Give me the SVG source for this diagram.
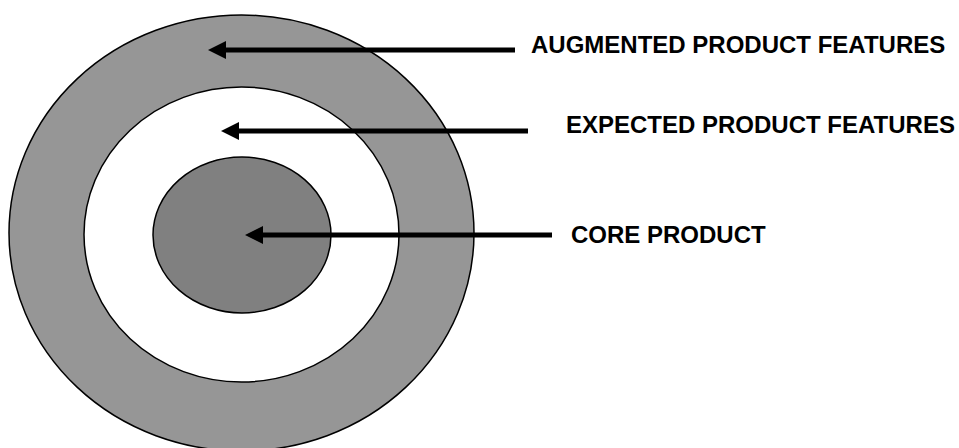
<svg xmlns="http://www.w3.org/2000/svg" width="959" height="448" viewBox="0 0 959 448">
<style>
.ring{stroke:#000;stroke-width:1.5}
.lbl{font-family:"Liberation Sans",Arial,sans-serif;font-weight:bold;font-size:24px;fill:#000}
.conn{stroke:#000;stroke-width:5;fill:none}
</style>
<defs>
<marker id="ah" markerUnits="userSpaceOnUse" markerWidth="18" markerHeight="18" refX="0" refY="9" orient="auto" viewBox="0 0 18 18">
<path d="M18,9 L0,0 L0,18 Z" fill="#000"/>
</marker>
</defs>
<rect width="959" height="448" fill="#fff"/>
<g id="augmented"><ellipse class="ring" cx="241.5" cy="233" rx="232.5" ry="218" fill="#969696"/></g>
<g id="expected"><ellipse class="ring" cx="241.5" cy="234.5" rx="157.5" ry="147.5" fill="#fff"/></g>
<g id="core"><ellipse class="ring" cx="242" cy="235" rx="89" ry="78" fill="#808080"/></g>
<g id="connectors">
<line class="conn" x1="515" y1="50" x2="226" y2="50" marker-end="url(#ah)"/>
<line class="conn" x1="528" y1="131" x2="239" y2="131" marker-end="url(#ah)"/>
<line class="conn" x1="552" y1="235" x2="263" y2="235" marker-end="url(#ah)"/>
</g>
<g id="labels">
<text class="lbl" x="531" y="53">AUGMENTED PRODUCT FEATURES</text>
<text class="lbl" x="566" y="133">EXPECTED PRODUCT FEATURES</text>
<text class="lbl" x="571" y="243">CORE PRODUCT</text>
</g>
</svg>
